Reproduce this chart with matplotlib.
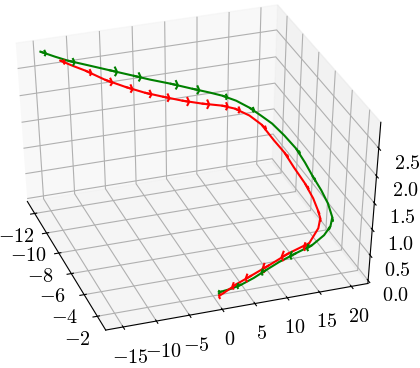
import matplotlib
matplotlib.use("Agg")
import matplotlib.pyplot as plt
import numpy as np

plt.rcParams['mathtext.fontset'] = 'cm'
plt.rcParams['font.family'] = 'serif'
plt.rcParams['font.serif'] = ['cmr10']
plt.rcParams['axes.unicode_minus'] = False

x_ticks = [-12, -10, -8, -6, -4, -2]
y_ticks = [-15, -10, -5, 0, 5, 10, 15, 20]
z_ticks = [0.0, 0.5, 1.0, 1.5, 2.0, 2.5]

# green trajectory
green_x = [-12.92, -12.66, -12.40, -12.14, -11.86, -11.50, -11.24, -10.98, -10.64, -10.46,
           -10.34, -10.16, -9.91, -9.68, -9.35, -8.78, -8.11, -7.40, -6.67, -5.79,
           -5.07, -4.31, -3.95, -3.61, -3.32, -3.13, -2.87, -2.60, -2.28, -2.03, -1.95, -1.95]
green_y = [-14.3, -12.4, -10.7, -7.7, -5.1, -1.8, 0.5, 3.3, 6.3, 8.9,
           10.7, 12.7, 14.5, 16.1, 17.5, 18.8, 19.9, 20.5, 20.8, 21.2,
           21.4, 21.2, 20.5, 19.1, 16.9, 14.2, 11.2, 8.9, 6.6, 4.4, 2.7, 1.3]
green_z = [2.8, 2.72, 2.66, 2.56, 2.48, 2.38, 2.31, 2.23, 2.14, 2.05,
           1.98, 1.88, 1.76, 1.62, 1.5, 1.35, 1.2, 1.05, 0.93, 0.8,
           0.68, 0.56, 0.47, 0.39, 0.3, 0.24, 0.18, 0.13, 0.09, 0.06, 0.03, 0.01]
green_arrows = [0, 2, 4, 5, 7, 8, 10, 12, 16, 18, 21, 22, 24, 25, 27, 29, 31]

# red trajectory
red_x = [-12.58, -12.29, -12.05, -11.42, -10.96, -10.54, -10.31, -10.06, -9.89, -9.81,
         -9.84, -9.71, -9.42, -8.71, -8.07, -7.34, -6.52, -5.74, -5.09, -4.76,
         -4.26, -3.53, -3.32, -2.85, -2.48, -2.21, -1.85]
red_y = [-11.7, -10.2, -8.5, -6.2, -3.6, -1.1, 1.4, 4.1, 7.0, 10.0,
         12.1, 14.3, 15.9, 17.1, 18.0, 18.7, 19.5, 19.9, 19.9, 19.9,
         19.0, 16.7, 13.3, 9.7, 6.5, 4.0, 1.5]
red_z = [2.65, 2.58, 2.5, 2.4, 2.3, 2.22, 2.14, 2.06, 1.98, 1.9,
         1.8, 1.65, 1.5, 1.3, 1.17, 1.0, 0.83, 0.68, 0.57, 0.48,
         0.4, 0.3, 0.22, 0.16, 0.1, 0.05, 0.0]
red_arrows = [0, 2, 3, 4, 5, 6, 7, 8, 9, 10, 12, 14, 16, 18, 19, 21, 22, 23, 24, 25, 26]


def draw_path(ax, xs, ys, zs, arrows, color):
    xs, ys, zs = np.array(xs), np.array(ys), np.array(zs)
    ax.plot(xs, ys, zs, color=color, linewidth=1.5)
    # arrows follow the direction of travel
    u, v, w = np.gradient(xs), np.gradient(ys), np.gradient(zs)
    ax.quiver(xs[arrows], ys[arrows], zs[arrows], u[arrows], v[arrows], w[arrows],
              length=0.38, color=color, linewidth=1.5, arrow_length_ratio=0.3)


fig = plt.figure(figsize=(4.2, 3.68), dpi=100)
ax = fig.add_axes([(187 - 232.9) / 420, (368 - 169 - 0.941 * 184) / 368, 1.109, 0.941], projection='3d')
# old style cube stretched to fill the axes rectangle
ax.apply_aspect = lambda position=None: None
ax.set_box_aspect((1, 1, 1))
ax.view_init(elev=39.2, azim=-19)

draw_path(ax, green_x, green_y, green_z, green_arrows, 'green')
draw_path(ax, red_x, red_y, red_z, red_arrows, 'red')

ax.set_xlim(-13.25, -0.75)
ax.set_ylim(-17.6, 22.6)
ax.set_zlim(-0.06, 2.956)
ax.set_xticks(x_ticks)
ax.set_yticks(y_ticks)
ax.set_zticks(z_ticks)
ax.set_xticklabels([f"${v}$" for v in x_ticks], fontsize=14.5)
ax.set_yticklabels([f"${v}$" for v in y_ticks], fontsize=14.5)
ax.set_zticklabels([f"${v:.1f}$" for v in z_ticks], fontsize=14.5)

fig.savefig("out.png", dpi=100)
